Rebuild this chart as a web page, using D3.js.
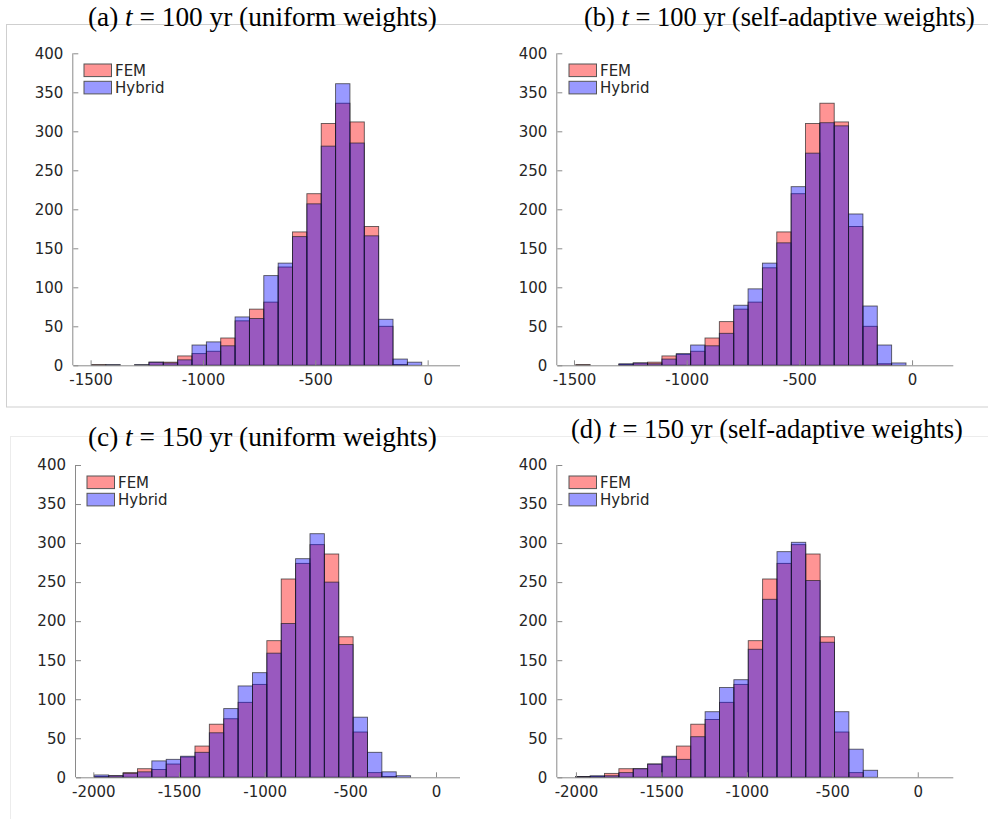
<!DOCTYPE html>
<html>
<head>
<meta charset="utf-8">
<script src="https://cdn.jsdelivr.net/npm/d3@7"></script>
<style>
  html, body { margin: 0; padding: 0; background: #fff; }
  svg { display: block; }
</style>
</head>
<body>
<svg id="chart" width="988" height="819"></svg>
<script>
// ---------------- DATA ----------------
const seriesNames = ["FEM", "Hybrid"];
const yTicks = [0, 50, 100, 150, 200, 250, 300, 350, 400];
const xTicks100 = [-1500, -1000, -500, 0];
const xTicks150 = [-2000, -1500, -1000, -500, 0];

// (a) t = 100 yr, uniform weights
const binStartA = -1496, binWidthA = 63.9;
const femA = [1,0,0,0,4,4,12,15,18,35,57,72,81,126,171,220,310,336,312,178,50,1,0];
const hybA = [0,1,0,1,4,3,7,26,30,25,62,60,115,131,165,207,281,361,285,166,59,8,4];

// (b) t = 100 yr, self-adaptive weights
const binStartB = -1492, binWidthB = 63.7;
const femB = [1,0,0,1,3,4,12,14,18,35,56,72,81,125,171,220,310,336,312,178,50,2,0];
const hybB = [0,0,0,2,3,2,8,15,26,25,41,77,98,131,157,229,272,311,307,194,76,26,3];

// (c) t = 150 yr, uniform weights
const binStartC = -1994, binWidthC = 83.9;
const femC = [1,2,6,11,10,17,26,40,68,75,96,119,175,254,274,298,286,180,58,6,1,0];
const hybC = [3,2,5,7,21,23,27,32,57,88,117,134,159,197,280,312,250,170,77,32,7,2];

// (d) t = 150 yr, self-adaptive weights
const binStartD = -2001, binWidthD = 84.1;
const femD = [1,1,5,11,11,17,26,40,68,74,96,119,175,254,274,298,286,180,58,6,0];
const hybD = [1,2,2,6,11,17,27,23,52,84,115,125,164,228,289,301,252,173,84,36,9];

const titles = [
  {pre: "(a) ", t: "t", post: " = 100 yr (uniform weights)"},
  {pre: "(b) ", t: "t", post: " = 100 yr (self-adaptive weights)"},
  {pre: "(c) ", t: "t", post: " = 150 yr (uniform weights)"},
  {pre: "(d) ", t: "t", post: " = 150 yr (self-adaptive weights)"}
];

// ---------------- LAYOUT ----------------
const panels = [
  {fem: femA, hyb: hybA, bs: binStartA, bw: binWidthA, xTicks: xTicks100,
   xDom: [-1577, 144], L: 73.3, R: 460, T: 53.3, B: 365.3,
   title: titles[0], tx0: 88, tx1: 437, ty: 26, legX: 84, legY: 64},
  {fem: femB, hyb: hybB, bs: binStartB, bw: binWidthB, xTicks: xTicks100,
   xDom: [-1574, 183], L: 557.3, R: 953.3, T: 53.3, B: 365.3,
   title: titles[1], tx0: 584, tx1: 975, ty: 26, legX: 569, legY: 64},
  {fem: femC, hyb: hybC, bs: binStartC, bw: binWidthC, xTicks: xTicks150,
   xDom: [-2101, 140], L: 76, R: 460, T: 465, B: 777.3,
   title: titles[2], tx0: 88, tx1: 437, ty: 446, legX: 87, legY: 476},
  {fem: femD, hyb: hybD, bs: binStartD, bw: binWidthD, xTicks: xTicks150,
   xDom: [-2109, 208], L: 557.3, R: 953.3, T: 465, B: 777.3,
   title: titles[3], tx0: 571, tx1: 963, ty: 438, legX: 569, legY: 476}
];

const colors = {FEM: "rgba(255,0,0,0.42)", Hybrid: "rgba(0,0,255,0.4)"};
const axisColor = "#8a8a8a";
const textColor = "#262626";
const sans = "'DejaVu Sans', Verdana, sans-serif";
const serif = "'Liberation Serif', 'Times New Roman', serif";

const svg = d3.select("#chart");

// light frames
svg.append("rect").attr("x", 6.5).attr("y", 24.5).attr("width", 990).attr("height", 382.5)
  .attr("fill", "none").attr("stroke", "#cfcfcf").attr("stroke-width", 1);
svg.append("rect").attr("x", 10.5).attr("y", 436.5).attr("width", 990).attr("height", 400)
  .attr("fill", "none").attr("stroke", "#ececec").attr("stroke-width", 1);

panels.forEach(p => {
  const g = svg.append("g");
  const x = d3.scaleLinear().domain(p.xDom).range([p.L, p.R]);
  const y = d3.scaleLinear().domain([0, 400]).range([p.B, p.T]);

  const drawSeries = (vals, color) => {
    g.append("g").selectAll("rect")
      .data(vals.map((v, i) => ({v, i})).filter(d => d.v > 0))
      .join("rect")
      .attr("x", d => x(p.bs + d.i * p.bw))
      .attr("width", d => x(p.bs + (d.i + 1) * p.bw) - x(p.bs + d.i * p.bw))
      .attr("y", d => y(d.v))
      .attr("height", d => y(0) - y(d.v))
      .attr("fill", color)
      .attr("stroke", "#1a1a1a")
      .attr("stroke-opacity", 0.7)
      .attr("stroke-width", 0.9);
  };
  drawSeries(p.fem, colors.FEM);
  drawSeries(p.hyb, colors.Hybrid);

  // x axis
  const xAxis = d3.axisBottom(x).tickValues(p.xTicks).tickSize(-5).tickPadding(9)
    .tickFormat(d3.format("d"));
  const gx = g.append("g").attr("transform", `translate(0,${p.B})`).call(xAxis);
  gx.select(".domain").remove();
  gx.append("line").attr("x1", p.L).attr("x2", p.R).attr("y1", 0.5).attr("y2", 0.5)
    .attr("stroke", axisColor);
  gx.selectAll(".tick line").attr("stroke", axisColor);
  gx.selectAll(".tick text").attr("fill", textColor).style("font-family", sans)
    .style("font-size", "15px").text(d => d < 0 ? "-" + Math.abs(d) : d);

  // y axis
  const yAxis = d3.axisLeft(y).tickValues(yTicks).tickSize(-5).tickPadding(10);
  const gy = g.append("g").attr("transform", `translate(${p.L},0)`).call(yAxis);
  gy.select(".domain").remove();
  gy.append("line").attr("x1", -0.5).attr("x2", -0.5).attr("y1", p.T).attr("y2", p.B)
    .attr("stroke", axisColor);
  gy.selectAll(".tick line").attr("stroke", axisColor);
  gy.selectAll(".tick text").attr("fill", textColor).style("font-family", sans)
    .style("font-size", "15px");

  // legend
  const leg = g.append("g").attr("transform", `translate(${p.legX},${p.legY})`);
  seriesNames.forEach((name, i) => {
    leg.append("rect").attr("x", 0).attr("y", i * 17.3).attr("width", 27.5).attr("height", 12.6)
      .attr("fill", colors[name]).attr("stroke", "#555").attr("stroke-width", 1);
    leg.append("text").attr("x", 31).attr("y", i * 17.3 + 12).text(name)
      .attr("fill", textColor).style("font-family", sans).style("font-size", "15px");
  });

  // title
  const t = svg.append("text").attr("x", p.tx0).attr("y", p.ty)
    .style("font-family", serif).style("font-size", "27px").attr("fill", "#000");
  t.append("tspan").text(p.title.pre);
  t.append("tspan").text(p.title.t).style("font-style", "italic");
  t.append("tspan").text(p.title.post);
  const w = t.node().getComputedTextLength();
  const sx = (p.tx1 - p.tx0) / w;
  t.attr("transform", `translate(${p.tx0},0) scale(${sx},1) translate(${-p.tx0},0)`);
});
</script>
</body>
</html>
